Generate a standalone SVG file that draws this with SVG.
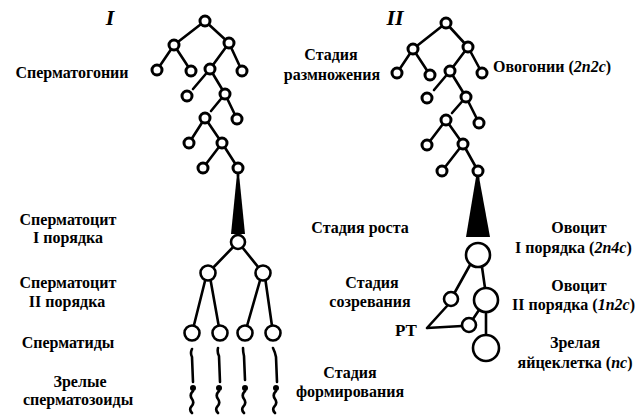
<svg xmlns="http://www.w3.org/2000/svg" width="643" height="416" viewBox="0 0 643 416">
<style>
.t{font-family:"Liberation Serif","DejaVu Serif",serif;font-weight:bold;font-size:16px;fill:#000}
.m{text-anchor:middle}
.r{font-family:"Liberation Serif",serif;font-weight:bold;font-style:italic;font-size:22px;fill:#000}
.i{font-style:italic}
.e{stroke:#000;stroke-width:2.6;fill:none;stroke-linecap:round}
.n{fill:#fff;stroke:#000;stroke-width:3}
.nb{fill:#fff;stroke:#000;stroke-width:2.6}
.f{fill:#000;stroke:none}
</style>
<rect width="643" height="416" fill="#fff"/>

<g id="connectors">
  <path class="e" d="M205,21 L174,45 M205,21 L229,43 M174,45 L157,70 M174,45 L191,71 M229,43 L210,69 M229,43 L242,71 M210,69 L193,89 M210,69 L225,94 M225,94 L211,111 M225,94 L237,119 M205,118 L189,143 M205,118 L222,143 M222,143 L203,168 M222,143 L238,168 M238,168 L238,176"/>
  <polygon class="f" points="237,174 239,174 245,234 231,234"/>
  <path class="e" d="M238,242 L208,273 M238,242 L263,273 M206,277 L192,333 M210,277 L220,333 M261,277 L245,333 M265,277 L273,333"/>
  <path class="e" d="M192,349 Q190,353 192,357 L193,382 M218,348 Q217,352 219,356 L220,382 M243,348 Q243,352 244,356 L245,380 M273,348 Q275,352 276,357 L277,382"/>
  <path class="e" d="M193,391 q-4,4 -1,8 q3,4 -1,8 q-2,3 1,6 M219,391 q-4,4 -1,8 q3,4 -1,8 q-2,3 1,6 M245,391 q-4,4 -1,8 q3,4 -1,8 q-2,3 1,6 M276,391 q-4,4 -1,8 q3,4 -1,8 q-2,3 1,6"/>
  <path class="e" d="M446,23 L413,49 M446,23 L468,47 M413,49 L397,73 M413,49 L430,75 M468,47 L450,71 M468,47 L482,73 M450,71 L434,90 M450,71 L466,97 M466,97 L452,113 M466,97 L479,123 M446,120 L427,145 M446,120 L463,144 M463,144 L442,171 M463,144 L478,171 M478,171 L478,179"/>
  <polygon class="f" points="476,177 479,177 490,237 466,237"/>
  <path class="e" d="M470,265 L455,292 M482,267 L485,288 M486,312 L486,335 M479,310 L473,319 M427,328 L447,306 M427,328 L462,326"/>
</g>

<g id="nodes-left">
  <circle class="n" cx="205" cy="21" r="5"/>
  <circle class="n" cx="174" cy="45" r="5"/>
  <circle class="n" cx="229" cy="43" r="5"/>
  <circle class="n" cx="157" cy="70" r="5"/>
  <circle class="n" cx="191" cy="71" r="5"/>
  <circle class="n" cx="210" cy="69" r="5"/>
  <circle class="n" cx="242" cy="71" r="5"/>
  <circle class="n" cx="187" cy="96" r="5"/>
  <circle class="n" cx="225" cy="94" r="5"/>
  <circle class="n" cx="205" cy="118" r="5"/>
  <circle class="n" cx="237" cy="119" r="5"/>
  <circle class="n" cx="189" cy="143" r="5"/>
  <circle class="n" cx="222" cy="143" r="5"/>
  <circle class="n" cx="203" cy="168" r="5"/>
  <circle class="n" cx="238" cy="168" r="5"/>
  <circle class="nb" cx="238" cy="242" r="7"/>
  <circle class="nb" cx="208" cy="273" r="7.5"/>
  <circle class="nb" cx="263" cy="273" r="7.5"/>
  <circle class="nb" cx="192" cy="333" r="7.5"/>
  <circle class="nb" cx="220" cy="333" r="7.5"/>
  <circle class="nb" cx="245" cy="333" r="7.5"/>
  <circle class="nb" cx="273" cy="333" r="7.5"/>
  <circle class="f" cx="193" cy="388" r="3"/>
  <circle class="f" cx="219" cy="388" r="3"/>
  <circle class="f" cx="245" cy="388" r="3"/>
  <circle class="f" cx="276" cy="388" r="3"/>
</g>

<g id="nodes-right">
  <circle class="n" cx="446" cy="23" r="5"/>
  <circle class="n" cx="413" cy="49" r="5"/>
  <circle class="n" cx="468" cy="47" r="5"/>
  <circle class="n" cx="397" cy="73" r="5"/>
  <circle class="n" cx="430" cy="75" r="5"/>
  <circle class="n" cx="450" cy="71" r="5"/>
  <circle class="n" cx="482" cy="73" r="5"/>
  <circle class="n" cx="427" cy="98" r="5"/>
  <circle class="n" cx="466" cy="97" r="5"/>
  <circle class="n" cx="446" cy="120" r="5"/>
  <circle class="n" cx="479" cy="123" r="5"/>
  <circle class="n" cx="427" cy="145" r="5"/>
  <circle class="n" cx="463" cy="144" r="5"/>
  <circle class="n" cx="442" cy="171" r="5"/>
  <circle class="n" cx="478" cy="171" r="5"/>
  <circle class="nb" cx="478" cy="255" r="12"/>
  <circle class="nb" cx="451" cy="299" r="7"/>
  <circle class="nb" cx="486" cy="300" r="12"/>
  <circle class="nb" cx="469" cy="325" r="7"/>
  <circle class="nb" cx="486" cy="348" r="13"/>
</g>

<g id="labels">
  <text class="r" x="110" y="25" text-anchor="middle">I</text>
  <text class="r" x="395" y="25" text-anchor="middle">II</text>
  <text class="t m" x="72" y="78">Сперматогонии</text>
  <text class="t m" x="331" y="60">Стадия</text>
  <text class="t m" x="332" y="80">размножения</text>
  <text class="t" x="493" y="72">Овогонии (<tspan class="i">2n2c</tspan>)</text>
  <text class="t m" x="68" y="225">Сперматоцит</text>
  <text class="t m" x="68" y="243">I порядка</text>
  <text class="t m" x="68" y="288">Сперматоцит</text>
  <text class="t m" x="67" y="307">II порядка</text>
  <text class="t m" x="68" y="348">Сперматиды</text>
  <text class="t m" x="80" y="387">Зрелые</text>
  <text class="t m" x="78" y="405">сперматозоиды</text>
  <text class="t m" x="360" y="233">Стадия роста</text>
  <text class="t m" x="372" y="288">Стадия</text>
  <text class="t m" x="370" y="307">созревания</text>
  <text class="t" x="395" y="336" style="font-size:17px">PT</text>
  <text class="t m" x="350" y="378">Стадия</text>
  <text class="t m" x="350" y="397">формирования</text>
  <text class="t m" x="579" y="233">Овоцит</text>
  <text class="t" x="515" y="253">I порядка (<tspan class="i">2n4c</tspan>)</text>
  <text class="t m" x="579" y="291">Овоцит</text>
  <text class="t" x="512" y="310">II порядка (<tspan class="i">1n2c</tspan>)</text>
  <text class="t m" x="575" y="348">Зрелая</text>
  <text class="t m" x="575" y="368">яйцеклетка (<tspan class="i">nc</tspan>)</text>
</g>
</svg>
